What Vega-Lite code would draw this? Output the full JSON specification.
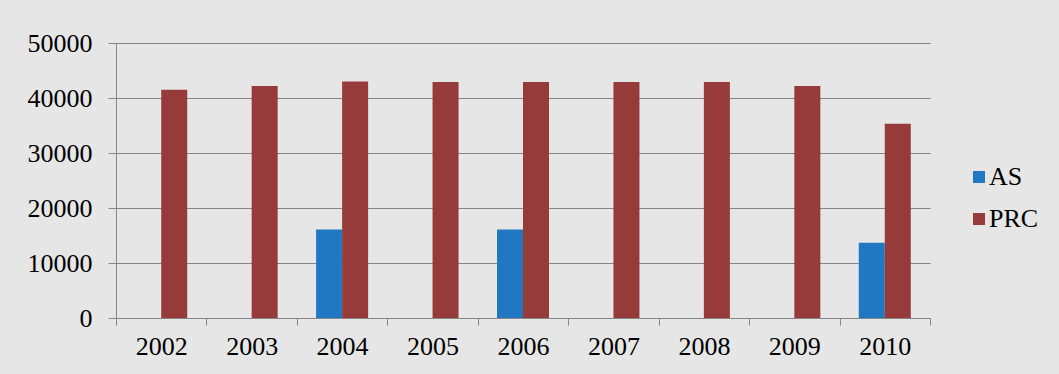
{
  "$schema": "https://vega.github.io/schema/vega-lite/v6.json",
  "autosize": {"type": "none"},
  "width": 814,
  "height": 275,
  "padding": {"left": 116, "top": 43, "right": 129, "bottom": 56},
  "background": "#e6e6e6",
  "config": {
    "view": {"stroke": null},
    "font": "Liberation Serif"
  },
  "data": {
    "values": [
      {"year": "2002", "series": "PRC", "value": 41500},
      {"year": "2003", "series": "PRC", "value": 42200},
      {"year": "2004", "series": "AS", "value": 16100},
      {"year": "2004", "series": "PRC", "value": 43000},
      {"year": "2005", "series": "PRC", "value": 42900},
      {"year": "2006", "series": "AS", "value": 16100},
      {"year": "2006", "series": "PRC", "value": 42900},
      {"year": "2007", "series": "PRC", "value": 42900},
      {"year": "2008", "series": "PRC", "value": 42900},
      {"year": "2009", "series": "PRC", "value": 42200},
      {"year": "2010", "series": "AS", "value": 13700},
      {"year": "2010", "series": "PRC", "value": 35300}
    ]
  },
  "mark": {"type": "bar"},
  "encoding": {
    "x": {
      "field": "year",
      "type": "nominal",
      "scale": {"paddingInner": 0, "paddingOuter": 0},
      "axis": {
        "title": null,
        "labelAngle": 0,
        "labelFont": "Liberation Serif",
        "labelFontSize": 26,
        "labelColor": "#000000",
        "labelPadding": 8,
        "tickBand": "extent",
        "tickSize": 7,
        "tickColor": "#868686",
        "domainColor": "#868686",
        "grid": false
      }
    },
    "xOffset": {
      "field": "series",
      "type": "nominal",
      "scale": {"domain": ["AS", "PRC"], "paddingInner": 0, "paddingOuter": 0.739}
    },
    "y": {
      "field": "value",
      "type": "quantitative",
      "scale": {"domain": [0, 50000], "nice": false},
      "axis": {
        "title": null,
        "values": [0, 10000, 20000, 30000, 40000, 50000],
        "format": "d",
        "labelFont": "Liberation Serif",
        "labelFontSize": 26,
        "labelColor": "#000000",
        "labelPadding": 16,
        "tickSize": 8,
        "tickColor": "#868686",
        "domainColor": "#868686",
        "grid": true,
        "gridColor": "#868686",
        "gridOpacity": 1
      }
    },
    "color": {
      "field": "series",
      "type": "nominal",
      "scale": {"domain": ["AS", "PRC"], "range": ["#1f78c1", "#963a3a"]},
      "legend": {
        "title": null,
        "orient": "none",
        "legendX": 850,
        "legendY": 121,
        "padding": 0,
        "symbolType": "square",
        "symbolSize": 144,
        "symbolStrokeWidth": 0,
        "labelFont": "Liberation Serif",
        "labelFontSize": 26,
        "labelColor": "#000000",
        "labelOffset": -3,
        "rowPadding": 16
      }
    }
  }
}
